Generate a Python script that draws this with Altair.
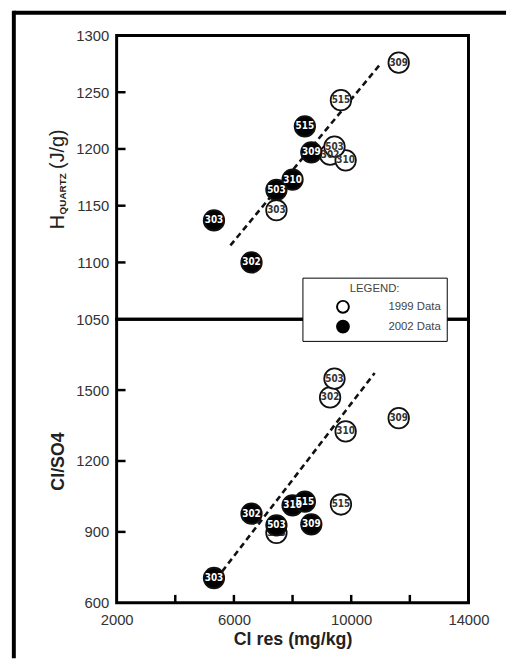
import altair as alt
import pandas as pd

# ---------------- data ----------------
samples = ["302", "303", "309", "310", "503", "515"]
cl_1999 = [9280, 7450, 11620, 9810, 9430, 9650]
cl_2002 = [6600, 5320, 8640, 8000, 7450, 8420]
hq_1999 = [1195, 1146, 1276, 1190, 1202, 1243]
hq_2002 = [1100, 1137, 1197, 1173, 1164, 1220]
clso4_1999 = [1469, 896, 1381, 1325, 1548, 1016]
clso4_2002 = [977, 705, 932, 1012, 928, 1028]
series_names = ["1999 Data", "2002 Data"]

fit_cl_top = [5880, 11000]
fit_hq_top = [1115, 1275]
fit_cl_bot = [5600, 10800]
fit_clso4_bot = [733, 1572]

x_labels = [2000, 6000, 10000, 14000]
x_inner_ticks = [4000, 6000, 8000, 10000, 12000]
top_labels = [1050, 1100, 1150, 1200, 1250, 1300]
top_inner_ticks = [1100, 1150, 1200, 1250]
bot_labels = [600, 900, 1200, 1500]
bot_inner_ticks = [900, 1200, 1500]
top_title_parts = ["H", "QUARTZ", "(J/g)"]

# ---------------- tables ----------------
pts = pd.DataFrame({
    "sample": samples + samples,
    "cl": cl_1999 + cl_2002,
    "hq": hq_1999 + hq_2002,
    "clso4": clso4_1999 + clso4_2002,
    "series": [series_names[0]] * 6 + [series_names[1]] * 6,
})
fit_top = pd.DataFrame({"cl": fit_cl_top, "hq": fit_hq_top})
fit_bot = pd.DataFrame({"cl": fit_cl_bot, "clso4": fit_clso4_bot})

W, H = 356, 287
FONT = "Liberation Sans"
LBL_FONT = "Liberation Sans Narrow, DejaVu Sans Condensed, Liberation Sans"

xscale = alt.Scale(domain=[2000, 14000], nice=False, zero=False)
fill_scale = alt.Scale(domain=series_names, range=["white", "black"])

legend = alt.Legend(
    title="LEGEND:", orient="none", legendX=188, legendY=245, direction="vertical",
    titleAnchor="middle", titleFontSize=11.5, titleFontWeight="normal", titleColor="#444",
    titleFont=FONT, labelFont=FONT,
    labelFontSize=11.5, labelColor="#444", labelAlign="right", labelOffset=92,
    symbolOffset=28, symbolSize=144, symbolStrokeColor="black", symbolStrokeWidth=2,
    symbolType="circle", strokeColor="black", fillColor="white", padding=6,
    rowPadding=4, titlePadding=4, clipHeight=16,
)


def panel(yfield, ydomain, ylabels, yinner, fit_df, show_x, ytitle, with_legend):
    yaxis = alt.Axis(values=ylabels, format="d", ticks=False, domain=False, grid=False,
                     labelFontSize=15, labelPadding=8, labelColor="#333", labelFont=FONT,
                     title=ytitle, titleFontSize=18, titleFontWeight="bold",
                     titleFont=FONT, titlePadding=8, titleColor="#222")
    if show_x:
        xaxis = alt.Axis(values=x_labels, format="d", ticks=False, domain=False, grid=False,
                         labelFontSize=15, labelPadding=10, labelColor="#333", labelFont=FONT,
                         labelFlush=False, title="Cl res (mg/kg)", titleFontSize=18,
                         titleFontWeight="bold", titleFont=FONT, titlePadding=3,
                         titleColor="#222")
    else:
        xaxis = None
    ysc = alt.Scale(domain=ydomain, nice=False, zero=False)
    X = alt.X("cl:Q", scale=xscale, axis=xaxis)
    Y = alt.Y(f"{yfield}:Q", scale=ysc, axis=yaxis)

    line = alt.Chart(fit_df).mark_line(strokeDash=[6, 4], strokeWidth=2.6, color="#111").encode(
        x=X, y=Y)

    def pts_layer(name, with_leg):
        return alt.Chart(pts).transform_filter(alt.datum.series == name).mark_point(
            shape="circle", filled=True, stroke="#111", strokeWidth=1.8, size=430, opacity=1
        ).encode(
            x=X, y=Y,
            fill=alt.Fill("series:N", scale=fill_scale,
                          legend=legend if with_leg else None),
        )

    def lbl_layer(name, color):
        return alt.Chart(pts).transform_filter(alt.datum.series == name).mark_text(
            font=LBL_FONT, fontSize=10, color=color, fontWeight="bold"
        ).encode(x=X, y=Y, text="sample:N")

    ticks_y = alt.Chart(pd.DataFrame({yfield: yinner})).mark_rule(
        color="black", strokeWidth=2.5).encode(
        x=alt.value(0), x2=alt.value(9), y=Y)

    layers = [line,
              pts_layer(series_names[0], with_legend), lbl_layer(series_names[0], "#333"),
              pts_layer(series_names[1], with_legend), lbl_layer(series_names[1], "white"),
              ticks_y]
    if show_x:
        ticks_x = alt.Chart(pd.DataFrame({"cl": x_inner_ticks})).mark_rule(
            color="black", strokeWidth=2.5).encode(
            x=X, y=alt.value(H), y2=alt.value(H - 8))
        layers.append(ticks_x)
    return layers


top_layers = panel("hq", [1050, 1300], top_labels, top_inner_ticks, fit_top, False, None, True)

# outer frame of the figure (decoration)
frame_top = alt.Chart(pd.DataFrame({"k": [0]})).mark_rule(color="black", strokeWidth=4).encode(
    x=alt.value(-104), x2=alt.value(394), y=alt.value(-23))
frame_left = alt.Chart(pd.DataFrame({"k": [0]})).mark_rule(color="black", strokeWidth=4).encode(
    x=alt.value(-104), y=alt.value(-25), y2=alt.value(630))

# y title of the upper panel with a subscript
tt = pd.DataFrame({"t": top_title_parts})
t_h = alt.Chart(tt).transform_filter(alt.datum.t == "H").mark_text(
    angle=270, align="left", baseline="alphabetic", fontSize=20, font=FONT, color="#222"
).encode(text="t:N", x=alt.value(-53), y=alt.value(196))
t_sub = alt.Chart(tt).transform_filter(alt.datum.t == "QUARTZ").mark_text(
    angle=270, align="left", baseline="alphabetic", fontSize=10, font=FONT,
    fontWeight="bold", color="#222"
).encode(text="t:N", x=alt.value(-51), y=alt.value(181))
t_u = alt.Chart(tt).transform_filter(alt.datum.t == "(J/g)").mark_text(
    angle=270, align="left", baseline="alphabetic", fontSize=20, font=FONT, color="#222"
).encode(text="t:N", x=alt.value(-53), y=alt.value(135))

top = alt.layer(frame_top, frame_left, *top_layers, t_h, t_sub, t_u).properties(width=W, height=H)

bot_layers = panel("clso4", [600, 1800], bot_labels, bot_inner_ticks, fit_bot, True, "Cl/SO4", False)
bottom = alt.layer(*bot_layers).properties(width=W, height=H)

chart = alt.vconcat(top, bottom, spacing=0, bounds="flush").properties(
    padding={"left": 10, "top": 3, "right": 0, "bottom": 0},
    background="white",
).configure_view(stroke="black", strokeWidth=3)

chart.save("out.html", embed_options={"renderer": "svg", "actions": False})
